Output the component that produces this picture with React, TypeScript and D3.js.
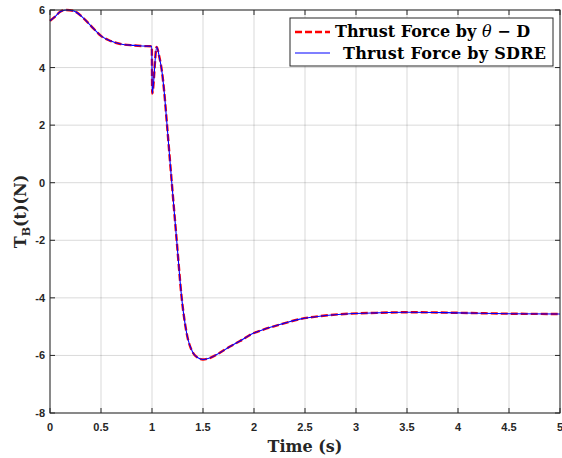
import React from 'react';
import * as d3 from 'd3';

// time samples (s)
const timeS = [0, 0.05, 0.1, 0.16, 0.23, 0.33, 0.425, 0.5, 0.59, 0.69, 0.82, 0.9, 0.998, 1.002, 1.046, 1.07, 1.1, 1.118, 1.144, 1.173, 1.194, 1.242, 1.291, 1.34, 1.4, 1.45, 1.5, 1.55, 1.63, 1.765, 1.863, 1.993, 2.03, 2.26, 2.45, 2.68, 2.94, 3.2, 3.5, 4.0, 4.5, 5.0];
// thrust force T_B(t) in N, theta-D controller
const thrustThetaD = [5.62, 5.77, 5.94, 6.0, 5.97, 5.71, 5.36, 5.1, 4.93, 4.82, 4.77, 4.75, 4.74, 3.1, 4.72, 4.4, 3.8, 3.22, 2.15, 0.9, 0.0, -2.0, -4.0, -5.23, -5.9, -6.08, -6.14, -6.11, -5.98, -5.69, -5.5, -5.23, -5.18, -4.92, -4.74, -4.62, -4.55, -4.52, -4.5, -4.52, -4.55, -4.56];
// thrust force, SDRE controller (overlaps theta-D)
const thrustSDRE = [5.62, 5.77, 5.94, 6.0, 5.97, 5.71, 5.36, 5.1, 4.93, 4.82, 4.77, 4.75, 4.74, 3.1, 4.72, 4.4, 3.8, 3.22, 2.15, 0.9, 0.0, -2.0, -4.0, -5.23, -5.9, -6.08, -6.14, -6.11, -5.98, -5.69, -5.5, -5.23, -5.18, -4.92, -4.74, -4.62, -4.55, -4.52, -4.5, -4.52, -4.55, -4.56];

const xTicks = [0, 0.5, 1, 1.5, 2, 2.5, 3, 3.5, 4, 4.5, 5];
const yTicks = [-8, -6, -4, -2, 0, 2, 4, 6];

const W = 562, H = 458;
const m = { left: 50, right: 2, top: 10, bottom: 45 };
const axisColor = '#262626';
const serif = '"DejaVu Serif", "Liberation Serif", serif';
const sans = '"Liberation Sans", Arial, sans-serif';
const dash = '7,3';

export default function App() {
  const x = d3.scaleLinear().domain([0, 5]).range([m.left, W - m.right]);
  const y = d3.scaleLinear().domain([-8, 6]).range([H - m.bottom, m.top]);
  const line = (vals: number[]) =>
    d3.line<number>().x((_, i) => x(timeS[i])).y(d => y(d)).curve(d3.curveMonotoneX)(vals) || '';

  const x0 = x(0), x1 = x(5), y0 = y(-8), y1 = y(6);
  const tick = 5;

  const lx = 290, ly = 18, lw = 263, lh = 48;

  return (
    <svg width={W} height={H} style={{ position: 'absolute', left: 0, top: 0, background: '#fff' }}>
      <rect x={0} y={0} width={W} height={H} fill="#fff" />
      {/* grid */}
      <g stroke="#000" strokeOpacity={0.15} strokeWidth={1}>
        {xTicks.map(t => <line key={'gx' + t} x1={x(t)} x2={x(t)} y1={y1} y2={y0} />)}
        {yTicks.map(t => <line key={'gy' + t} x1={x0} x2={x1} y1={y(t)} y2={y(t)} />)}
      </g>
      {/* data */}
      <path d={line(thrustThetaD)} fill="none" stroke="#ff0000" strokeWidth={2.4} strokeDasharray={dash} />
      <path d={line(thrustSDRE)} fill="none" stroke="#0000ff" strokeWidth={1.1} />
      {/* axes box + ticks */}
      <rect x={x0} y={y1} width={x1 - x0} height={y0 - y1} fill="none" stroke={axisColor} strokeWidth={1} />
      <g stroke={axisColor} strokeWidth={1}>
        {xTicks.map(t => (
          <g key={'tx' + t}>
            <line x1={x(t)} x2={x(t)} y1={y0} y2={y0 - tick} />
            <line x1={x(t)} x2={x(t)} y1={y1} y2={y1 + tick} />
          </g>
        ))}
        {yTicks.map(t => (
          <g key={'ty' + t}>
            <line x1={x0} x2={x0 + tick} y1={y(t)} y2={y(t)} />
            <line x1={x1} x2={x1 - tick} y1={y(t)} y2={y(t)} />
          </g>
        ))}
      </g>
      <g fontFamily={sans} fontWeight="bold" fontSize={11} fill={axisColor}>
        {xTicks.map(t => (
          <text key={'lx' + t} x={x(t)} y={y0 + 18} textAnchor="middle">{t}</text>
        ))}
        {yTicks.map(t => (
          <text key={'ly' + t} x={x0 - 5} y={y(t) + 4} textAnchor="end">{t}</text>
        ))}
      </g>
      {/* axis labels */}
      <text x={(x0 + x1) / 2} y={452} textAnchor="middle" fontFamily={serif} fontWeight="bold" fontSize={16} fill={axisColor}>Time (s)</text>
      <text transform={`translate(26,${(y0 + y1) / 2}) rotate(-90)`} textAnchor="middle" fontFamily={serif} fontWeight="bold" fontSize={16} fill={axisColor}>
        T<tspan fontSize={11} dy={4}>B</tspan><tspan dy={-4}>(t)(N)</tspan>
      </text>
      {/* legend */}
      <rect x={lx} y={ly} width={lw} height={lh} fill="#fff" stroke={axisColor} strokeWidth={1} />
      <line x1={lx + 5} x2={lx + 40} y1={ly + 14} y2={ly + 14} stroke="#ff0000" strokeWidth={2.4} strokeDasharray={dash} />
      <line x1={lx + 5} x2={lx + 40} y1={ly + 35} y2={ly + 35} stroke="#0000ff" strokeWidth={1.1} />
      <g fontFamily={serif} fontWeight="bold" fontSize={16} fill="#000">
        <text x={lx + 45} y={ly + 19} textLength={195} lengthAdjust="spacing">Thrust Force by <tspan fontStyle="italic" fontWeight="normal">θ</tspan> − D</text>
        <text x={lx + 53} y={ly + 41} textLength={203} lengthAdjust="spacing">Thrust Force by SDRE</text>
      </g>
    </svg>
  );
}
